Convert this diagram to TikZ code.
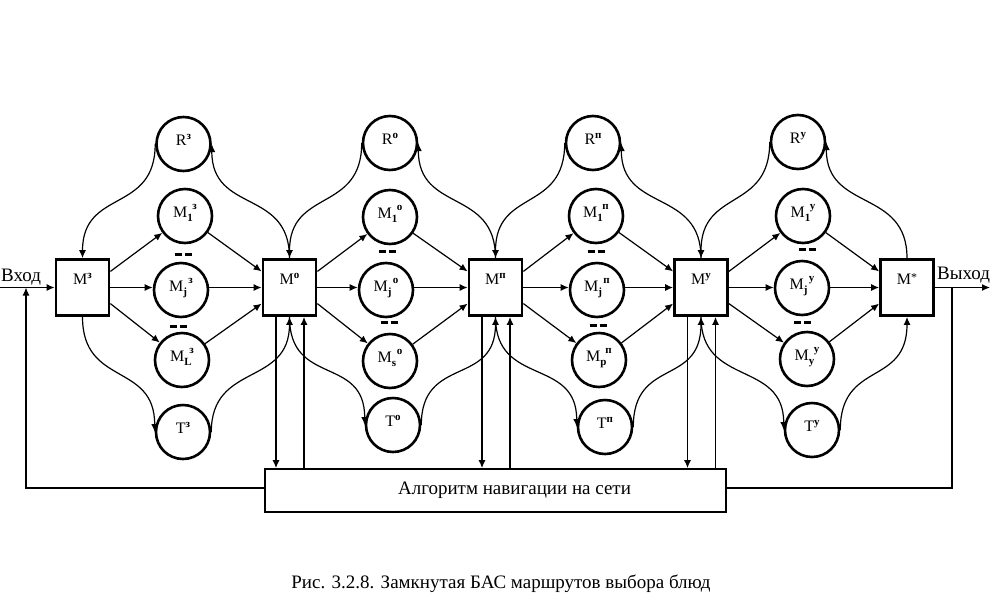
\documentclass[tikz,border=0pt]{standalone}
\usepackage{fontspec}
\setmainfont{Liberation Serif}
\usetikzlibrary{arrows.meta,calc}
\newcommand{\SupTxt}[1]{\raisebox{5.5pt}{\fontsize{11}{11}\selectfont\bfseries #1}}
\newcommand{\BL}[2]{#1\SupTxt{#2}}
\newcommand{\CL}[2]{M\rlap{\raisebox{-4.5pt}{\fontsize{11}{11}\selectfont\bfseries #1}}\hspace{5pt}\raisebox{8pt}{\fontsize{11}{11}\selectfont\bfseries #2}}
\begin{document}
\begin{tikzpicture}[x=1pt,y=-1pt,
  conn/.style={line width=1.2pt},
  arr/.style={conn,-{Latex[length=8pt,width=7pt]}},
  box/.style={draw,line width=2.8pt,minimum width=53pt,minimum height=56pt,inner sep=0pt,
    text height=2pt,text depth=9pt,font=\fontsize{16}{16}\selectfont},
  circ/.style={draw,circle,line width=2.6pt,minimum size=54pt,inner sep=0pt,
    text height=6pt,text depth=4pt,font=\fontsize{16}{16}\selectfont},
  dsh/.style={line width=3pt}]
\fill[white] (0,0) rectangle (1001,600);
\useasboundingbox (0,0) rectangle (1001,600);
% boxes
\node[box] (Mz) at (82.5,287.5) {\BL{M}{з}};
\node[box] (Mo) at (289.5,287.5) {\BL{M}{о}};
\node[box] (Mp) at (495.5,287.5) {\BL{M}{п}};
\node[box] (Mu) at (701,287.5) {\BL{M}{у}};
\node[box] (Ms) at (907,287.5) {M\raisebox{3pt}{\fontsize{12}{12}\selectfont *}};
% group z
\node[circ] (Rz) at (183.5,144) {\BL{R}{з}};
\node[circ] (Az) at (185,216) {\CL{1}{з}};
\node[circ] (Bz) at (181,290) {\CL{j}{з}};
\node[circ] (Cz) at (182,360) {\CL{L}{з}};
\node[circ] (Tz) at (183,432) {\BL{T}{з}};
% group o
\node[circ] (Ro) at (390,143) {\BL{R}{о}};
\node[circ] (Ao) at (390,217) {\CL{1}{о}};
\node[circ] (Bo) at (386,290) {\CL{j}{о}};
\node[circ] (Co) at (390,361) {\CL{s}{о}};
\node[circ] (To) at (393,425) {\BL{T}{о}};
% group p
\node[circ] (Rp) at (593,143) {\BL{R}{п}};
\node[circ] (Ap) at (596,216) {\CL{1}{п}};
\node[circ] (Bp) at (597,290) {\CL{j}{п}};
\node[circ] (Cp) at (599,360) {\CL{p}{п}};
\node[circ] (Tp) at (605,427) {\BL{T}{п}};
% group u
\node[circ] (Ru) at (798,142) {\BL{R}{у}};
\node[circ] (Au) at (803,216) {\CL{1}{у}};
\node[circ] (Bu) at (802,288) {\CL{j}{у}};
\node[circ] (Cu) at (807,359) {\CL{у}{у}};
\node[circ] (Tu) at (812,430) {\BL{T}{у}};
% algorithm box
\node[draw,line width=1.8pt,minimum width=461pt,minimum height=43pt,inner sep=0pt,
  font=\fontsize{19}{19}\selectfont] (Alg) at (495.5,490.5)
  {\hspace*{38pt}Алгоритм навигации на сети};
% connectors
\foreach \g/\n in {z/o,o/p,p/u,u/s} {
  \draw[arr] (M\g.30) -- (A\g);
  \draw[arr] (M\g.east) -- (M\g.east -| B\g.west);
  \draw[arr] (M\g.-30) -- (C\g);
  \draw[arr] (A\g) -- (M\n.150);
  \draw[arr] (B\g.east |- M\n.west) -- (M\n.west);
  \draw[arr] (C\g) -- (M\n.210);
  \draw[arr] (R\g.west) .. controls +(0,70) and +(0,-70) .. (M\g.north);
  \draw[arr] (M\n.north) .. controls +(0,-70) and +(0,70) .. (R\g.east);
  \draw[arr] (M\g.south) .. controls +(0,70) and +(0,-70) .. (T\g.west);
  \draw[arr] (T\g.east) .. controls +(0,-70) and +(0,70) .. (M\n.south);
}
\foreach \m in {Mo,Mp,Mu} {
  \coordinate (\m-dn) at ($(\m.south)+(-13.5,0)$);
  \coordinate (\m-up) at ($(\m.south)+(14.5,0)$);
  \draw[arr] (\m-dn) -- (\m-dn |- Alg.north);
  \draw[arr] (\m-up |- Alg.north) -- (\m-up);
}
% input / output
\coordinate (in) at (0,287.5);
\coordinate (out) at (990,287.5);
\coordinate (fbL) at (26,488);
\coordinate (fbR) at (952,287.5);
\draw[arr] (in) -- (Mz.west);
\draw[arr] (Alg.west |- fbL) -- (fbL) -- (fbL |- in);
\draw[arr] (Ms.east) -- (out);
\draw[conn] (fbR) -- (fbR |- fbL) -- (Alg.east |- fbL);
\node[anchor=base west,inner sep=0pt,font=\fontsize{19}{19}\selectfont] (vin) at (1,281) {Вход};
\node[anchor=base west,inner sep=0pt,font=\fontsize{19}{19}\selectfont] (vout) at (937,279) {Выход};
% dashes
\foreach \x/\y in {183/254,178.5/326,387.5/251,389/322,596/251,598/325,807/249,802.5/322}
  \draw[dsh] (\x-8.5,\y) -- (\x-1.5,\y) (\x+1.5,\y) -- (\x+8.5,\y);
% caption
\node[anchor=base,inner sep=0pt,font=\fontsize{19}{19}\selectfont] (cap) at (501,588)
  {Рис. 3.2.8. Замкнутая БАС маршрутов выбора блюд};
\end{tikzpicture}
\end{document}
